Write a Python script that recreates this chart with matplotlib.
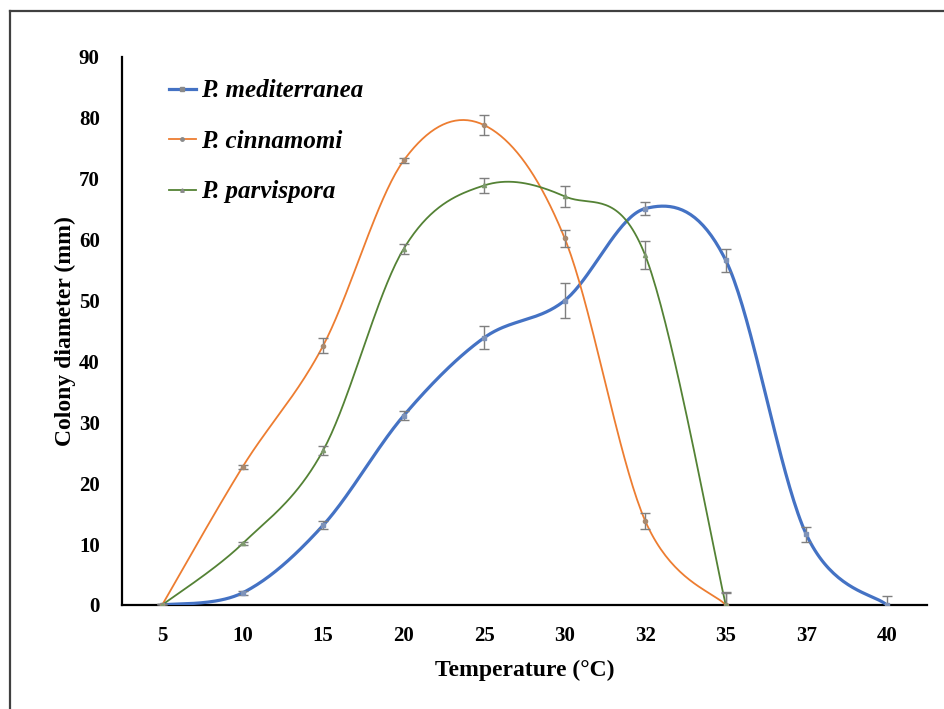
import numpy as np
import matplotlib
matplotlib.use("Agg")
import matplotlib.pyplot as plt
from matplotlib.lines import Line2D

categories = ["5", "10", "15", "20", "25", "30", "32", "35", "37", "40"]

med_vals = [0.0, 2.0, 13.1, 31.1, 43.9, 50.0, 65.1, 56.6, 11.6, 0.0]
med_err = [0.2, 0.3, 0.7, 0.75, 1.85, 2.85, 1.1, 1.9, 1.2, 1.5]

cin_vals = [0.0, 22.7, 42.6, 73.0, 78.8, 60.2, 13.8, 0.0]
cin_err = [0.2, 0.3, 1.3, 0.4, 1.6, 1.35, 1.35, 1.9]

par_vals = [0.0, 10.1, 25.4, 58.5, 68.9, 67.1, 57.4, 0.0]
par_err = [0.2, 0.3, 0.7, 0.8, 1.3, 1.75, 2.3, 2.2]

series_names = ["P. mediterranea", "P. cinnamomi", "P. parvispora"]
colors = ["#4472C4", "#ED7D31", "#548235"]
marker_colors = ["#7F93B8", "#A88A70", "#7F9A6F"]
widths = [2.3, 1.3, 1.3]
markers = ["s", "o", "^"]

plt.rcParams['font.family'] = ['Liberation Serif', 'DejaVu Serif']
plt.rcParams['font.weight'] = 'bold'


def smooth(xs, ys, n=40):
    xs = np.asarray(xs, float)
    ys = np.asarray(ys, float)
    px = np.concatenate([[xs[0]], xs, [xs[-1]]])
    py = np.concatenate([[ys[0]], ys, [ys[-1]]])
    outx, outy = [], []
    t = np.linspace(0, 1, n)
    for i in range(1, len(px) - 2):
        p0x, p1x, p2x, p3x = px[i - 1], px[i], px[i + 1], px[i + 2]
        p0y, p1y, p2y, p3y = py[i - 1], py[i], py[i + 1], py[i + 2]
        c1x = p1x + (p2x - p0x) / 6
        c1y = p1y + (p2y - p0y) / 6
        c2x = p2x - (p3x - p1x) / 6
        c2y = p2y - (p3y - p1y) / 6
        bx = (1 - t) ** 3 * p1x + 3 * (1 - t) ** 2 * t * c1x + 3 * (1 - t) * t ** 2 * c2x + t ** 3 * p2x
        by = (1 - t) ** 3 * p1y + 3 * (1 - t) ** 2 * t * c1y + 3 * (1 - t) * t ** 2 * c2y + t ** 3 * p2y
        outx.extend(bx)
        outy.extend(by)
    return np.array(outx), np.array(outy)


fig = plt.figure(figsize=(9.45, 7.09), dpi=100)
ax = fig.add_axes([0.129, 0.1467, 0.852, 0.773])

all_vals = [med_vals, cin_vals, par_vals]
all_err = [med_err, cin_err, par_err]
handles = []
for vals, errs, name, c, mc, lw, mk in zip(all_vals, all_err, series_names, colors, marker_colors, widths, markers):
    x = np.arange(len(vals))
    sx, sy = smooth(x, vals)
    ax.plot(sx, sy, color=c, lw=lw, solid_capstyle='round', zorder=3)
    ax.errorbar(x, vals, yerr=errs, fmt='none', ecolor='#7F7F7F', elinewidth=1.0,
                capsize=3.5, capthick=1.0, zorder=4)
    ax.plot(x, vals, linestyle='none', marker=mk, ms=3, color=mc, zorder=5)
    handles.append(Line2D([0], [0], color=c, lw=lw, marker=mk, ms=2.5, markerfacecolor='#8a8a8a',
                          markeredgecolor='#8a8a8a'))

ax.set_xlim(-0.5, 9.5)
ax.set_ylim(0, 90)
ax.set_xticks(np.arange(len(categories)))
ax.set_xticklabels(categories)
ax.set_yticks(np.arange(0, 91, 10))
ax.tick_params(axis='both', length=0, labelsize=15)
ax.tick_params(axis='x', pad=15)
ax.tick_params(axis='y', pad=16)
for lab in ax.get_xticklabels() + ax.get_yticklabels():
    lab.set_fontweight('bold')
for s in ['top', 'right']:
    ax.spines[s].set_visible(False)
for s in ['left', 'bottom']:
    ax.spines[s].set_color('black')
    ax.spines[s].set_linewidth(1.6)

ax.set_xlabel("Temperature (°C)", fontsize=17, fontweight='bold', labelpad=10)
ax.set_ylabel("Colony diameter (mm)", fontsize=17, fontweight='bold', labelpad=2)

leg = ax.legend(handles, series_names, loc='upper left', bbox_to_anchor=(0.03, 1.0),
                frameon=False, handlelength=1.1, handletextpad=0.2, labelspacing=1.1,
                prop={'family': ['Liberation Serif'], 'style': 'italic', 'weight': 'bold', 'size': 18})

fig.add_artist(Line2D([10 / 945, 10 / 945], [0, 1 - 11 / 709], color='#404040', lw=1.6,
                      transform=fig.transFigure))
fig.add_artist(Line2D([10 / 945, 1], [1 - 11 / 709, 1 - 11 / 709], color='#404040', lw=1.6,
                      transform=fig.transFigure))

fig.savefig("out.png", dpi=100)
